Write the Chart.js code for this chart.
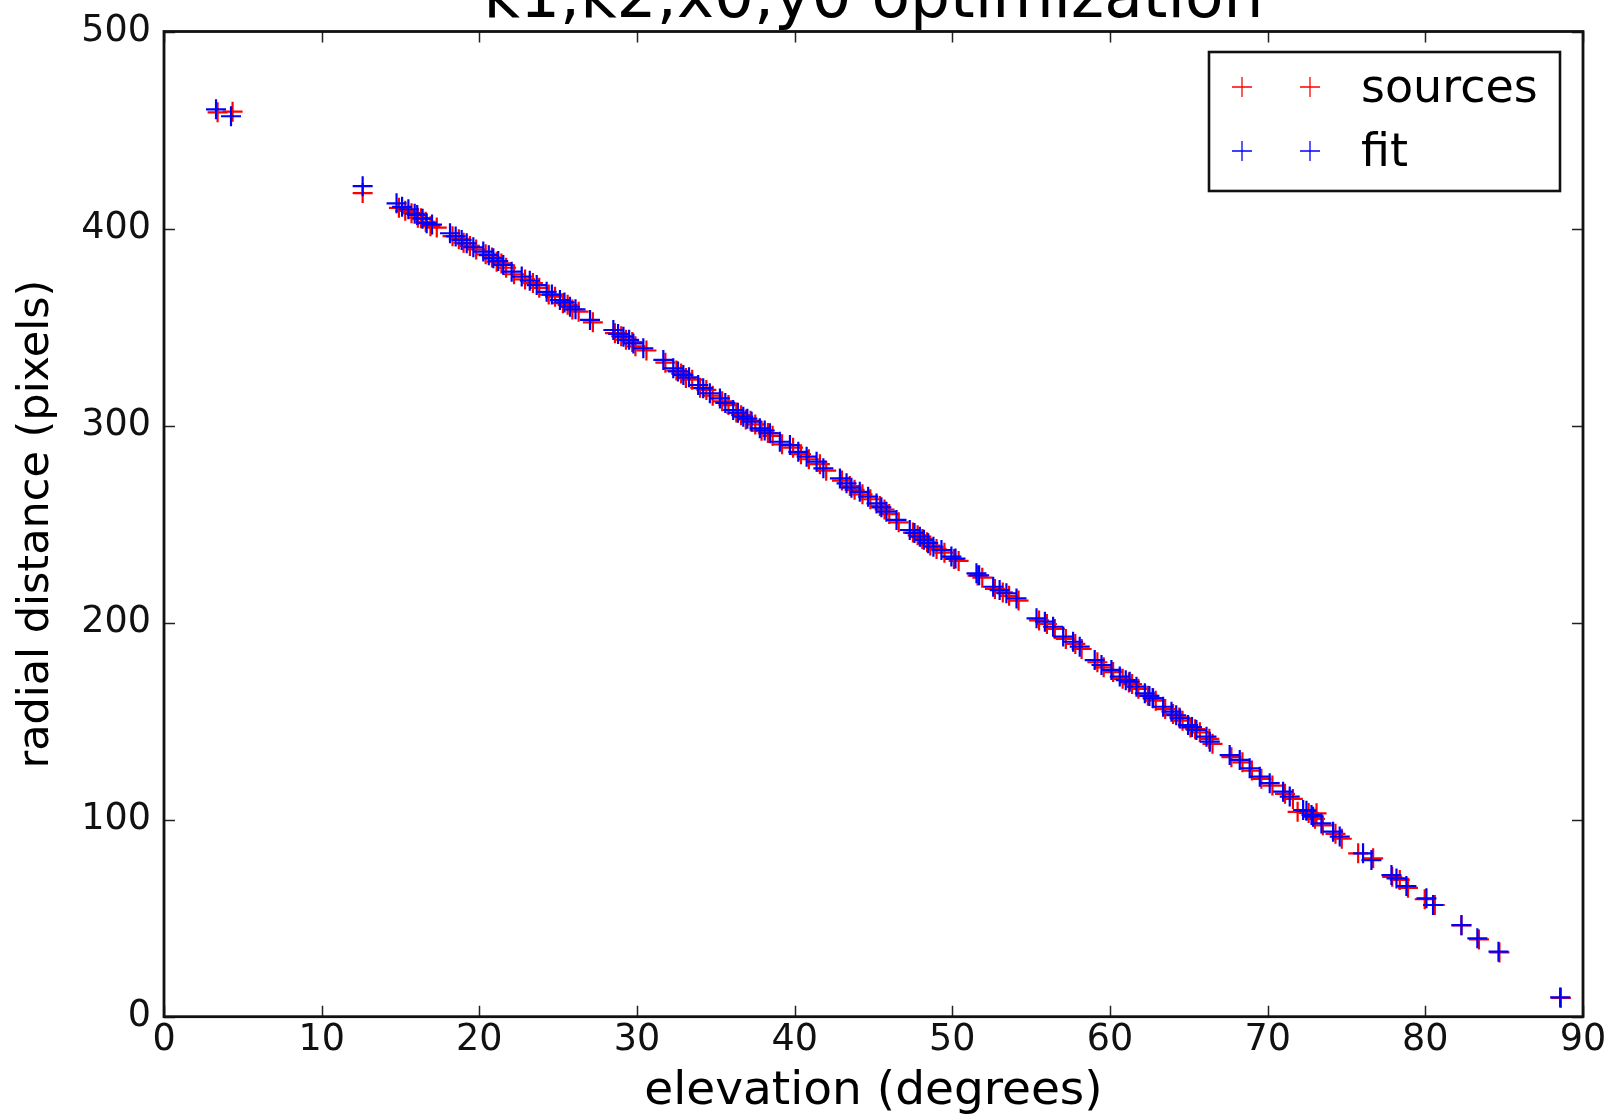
<!DOCTYPE html>
<html><head><meta charset="utf-8">
<script src="https://cdn.jsdelivr.net/npm/chart.js@4.4.0/dist/chart.umd.min.js"></script>
<style>html,body{margin:0;padding:0;background:#fff}#wrap{width:1622px;height:1120px}</style>
</head><body><div id="wrap"><canvas id="c" width="1622" height="1120"></canvas></div>
<script>
const chartTitle = 'k1,k2,x0,y0 optimization';
const xAxisLabel = 'elevation (degrees)';
const yAxisLabel = 'radial distance (pixels)';
const seriesNames = ['sources', 'fit'];
const xTicks = [0, 10, 20, 30, 40, 50, 60, 70, 80, 90];
const yTicks = [0, 100, 200, 300, 400, 500];

const sourceElevation = [3.4,4.35,12.6,14.9,15.3,15.7,16.1,16.3,16.6,16.9,17.3,18.3,18.7,19.0,19.4,19.8,20.4,20.8,21.1,21.4,21.7,22.2,22.9,23.4,23.8,24.4,24.8,25.3,25.6,25.9,26.3,27.2,28.6,29.0,29.3,29.7,29.9,30.6,31.8,32.5,32.8,33.1,33.5,34.0,34.4,34.8,35.4,35.8,36.3,36.6,36.9,37.2,37.5,37.9,38.3,38.6,39.2,39.9,40.4,40.9,41.6,42.0,43.0,43.5,43.8,44.3,44.8,45.4,45.7,46.0,46.6,47.5,47.8,48.1,48.4,48.6,49.0,49.5,50.1,50.4,51.6,51.9,52.7,53.2,53.6,54.2,55.5,56.0,56.5,57.2,57.8,58.2,59.2,59.6,60.2,60.8,61.2,61.4,61.8,62.4,62.7,62.9,63.5,64.0,64.4,64.6,65.1,65.4,65.7,66.3,66.5,67.7,68.4,69.0,69.6,70.3,71.1,71.6,71.9,72.6,73.1,73.0,73.5,74.3,74.7,75.74,76.69,77.9,78.38,78.9,79.96,80.6,82.29,83.4,84.7,88.6];
const sourceRadial = [459,459.3,418,410.5,409,407.8,405.5,405.2,403.4,401.2,400.5,396.1,394.6,392.8,391.2,389.4,386.9,385.3,383.2,382.3,380.1,376.8,374.2,372.3,369.9,366.5,365.4,362.1,361.3,358.9,357.8,352.4,346.9,345.3,343.6,342.4,340.2,338.1,331.9,327.9,326.4,324.1,323.3,319.2,318.1,315.2,312.3,310.4,306.6,305.3,303.1,302.4,300.6,297.4,296.2,294.8,290.5,288.8,285.5,282.9,280.4,277.1,272.1,269.3,267.4,265.1,262.6,259.2,257.4,255.1,250.9,245.7,244.3,242.4,240.8,239.1,237.4,235.5,232.3,231.3,223.9,222.8,217.1,215.3,213.6,211.2,201.1,199.3,196.8,191.7,189.2,186.6,179.9,177.3,174.9,171.5,169.6,168.8,166.4,162.9,161.7,160.4,156.1,153.6,151.9,150.2,146.8,145.9,144.3,141,138.5,131.7,129.1,124.9,120.7,117.3,113.1,110.5,104,103.4,103.2,100.4,97.1,92.8,90.3,82.9,80.4,71,69.4,65.4,59.6,56.7,46.3,39.2,32.6,9.6];

const fitElevation = [3.3,4.25,12.6,14.75,15.1,15.5,15.9,16.06,16.4,16.66,17.0,18.14,18.5,18.88,19.2,19.62,20.25,20.6,20.89,21.2,21.52,22.05,22.69,23.2,23.64,24.27,24.6,25.11,25.4,25.75,26.1,27.02,28.5,28.8,29.14,29.5,29.77,30.4,31.67,32.3,32.6,32.94,33.3,33.88,34.2,34.62,35.26,35.6,36.1,36.4,36.74,37.0,37.27,37.79,38.1,38.43,39.06,39.7,40.23,40.76,41.39,41.82,42.87,43.29,43.6,44.13,44.66,45.19,45.5,45.82,46.46,47.3,47.6,47.94,48.2,48.47,48.8,49.31,49.94,50.2,51.53,51.7,52.59,53.0,53.43,54.07,55.34,55.87,56.39,57.03,57.66,58.08,59.03,59.46,60.09,60.62,61.0,61.25,61.68,62.21,62.5,62.73,63.37,63.9,64.2,64.43,64.95,65.2,65.48,66.12,66.33,67.59,68.23,68.86,69.5,70.13,70.98,71.4,72.25,72.46,72.78,72.88,73.41,74.15,74.57,76.05,76.58,77.85,78.17,78.8,80.07,80.49,82.29,83.3,84.64,88.55];
const fitRadial = [460.5,457,421.5,412.8,411,409.8,407.5,406.9,405,402.7,402,397.6,396,394.2,392.5,390.5,388.3,386.5,384.9,383.5,381.5,378.1,375.6,373.5,371.3,367.9,366.5,363.7,362.5,360.3,359,353.6,348.5,346.5,345.1,343.5,341.7,339.2,333.3,329.1,327.5,325.7,324.5,320.6,319,316.4,313.8,311.5,307.9,306.5,304.5,303.5,302,298.6,297.5,296.1,291.8,290.1,286.7,284.2,281.7,278.3,273.2,270.7,268.5,266.4,263.9,260.5,258.5,256.3,252.1,247,245.5,243.6,242,240.3,238.5,236.8,233.5,232.5,225,224,218.2,216.5,214.9,212.3,202.2,200.5,197.9,192.9,190.3,187.8,181,178.5,176,172.6,170.8,170,167.5,164.1,162.8,161.6,157.3,154.8,153,151.4,148,147,145.5,142.1,139.6,132.8,130.3,126.1,121.8,118.5,114.2,111.7,104.9,104.5,102.4,101.5,98.1,93.9,91.4,82.9,79.5,71.9,70.2,66.3,60.1,56.7,46.5,39.8,33,9.8];

const seriesColors = ['#ff0000', '#0000ff'];
const FONT = '"DejaVu Sans", "Liberation Sans", sans-serif';
Chart.defaults.font.family = FONT;
Chart.defaults.color = '#000';

const toPoints = (xs, ys) => xs.map((v, i) => ({x: v, y: ys[i]}));

const framePlugin = {
  id: 'frameTicks',
  afterDatasetsDraw(chart) {
    const {ctx, chartArea: a, scales: {x, y}} = chart;
    ctx.save();
    ctx.strokeStyle = '#222';
    ctx.lineWidth = 1.5;
    const L = 11;
    ctx.beginPath();
    xTicks.forEach(v => {
      const px = Math.round(x.getPixelForValue(v)) + 0.5;
      ctx.moveTo(px, a.bottom); ctx.lineTo(px, a.bottom - L);
      ctx.moveTo(px, a.top); ctx.lineTo(px, a.top + L);
    });
    yTicks.forEach(v => {
      const py = Math.round(y.getPixelForValue(v)) + 0.5;
      ctx.moveTo(a.left, py); ctx.lineTo(a.left + L, py);
      ctx.moveTo(a.right, py); ctx.lineTo(a.right - L, py);
    });
    ctx.stroke();
    ctx.strokeStyle = '#111';
    ctx.lineWidth = 2.8;
    ctx.strokeRect(a.left, a.top, a.right - a.left, a.bottom - a.top);
    ctx.restore();
  }
};

const legendTitlePlugin = {
  id: 'legendTitle',
  afterDraw(chart) {
    const {ctx, chartArea: a} = chart;
    ctx.save();
    ctx.fillStyle = '#000';
    ctx.font = '63px ' + FONT;
    ctx.textAlign = 'center';
    ctx.textBaseline = 'alphabetic';
    ctx.fillText(chartTitle, (a.left + a.right) / 2, 17);
    const bw = 351, bh = 139;
    const bx = a.right - 23 - bw, by = a.top + 20.5;
    ctx.fillStyle = '#fff';
    ctx.fillRect(bx, by, bw, bh);
    ctx.strokeStyle = '#111';
    ctx.lineWidth = 2.6;
    ctx.strokeRect(bx, by, bw, bh);
    seriesNames.forEach((name, i) => {
      const cy = by + 35 + i * 64;
      ctx.strokeStyle = seriesColors[i];
      ctx.lineWidth = 1.3;
      [bx + 33, bx + 101].forEach(mx => {
        ctx.beginPath();
        ctx.moveTo(mx - 10, cy); ctx.lineTo(mx + 10, cy);
        ctx.moveTo(mx, cy - 10); ctx.lineTo(mx, cy + 10);
        ctx.stroke();
      });
      ctx.fillStyle = '#000';
      ctx.font = '46px ' + FONT;
      ctx.textAlign = 'left';
      ctx.textBaseline = 'alphabetic';
      ctx.fillText(name, bx + 152, cy + 15);
    });
    ctx.restore();
  }
};

new Chart(document.getElementById('c'), {
  type: 'scatter',
  data: {
    datasets: [
      {
        label: seriesNames[0],
        data: toPoints(sourceElevation, sourceRadial),
        pointStyle: 'cross', pointRadius: 10, pointHoverRadius: 10,
        borderColor: seriesColors[0], backgroundColor: seriesColors[0],
        borderWidth: 2.2, order: 1
      },
      {
        label: seriesNames[1],
        data: toPoints(fitElevation, fitRadial),
        pointStyle: 'cross', pointRadius: 10, pointHoverRadius: 10,
        borderColor: seriesColors[1], backgroundColor: seriesColors[1],
        borderWidth: 2.2, order: 0
      }
    ]
  },
  options: {
    responsive: false,
    animation: false,
    devicePixelRatio: 1,
    layout: {padding: {top: 31.5, right: 39, left: 0, bottom: 0}},
    plugins: {legend: {display: false}, title: {display: false}, tooltip: {enabled: false}},
    scales: {
      x: {
        type: 'linear', min: 0, max: 90,
        afterBuildTicks: s => { s.ticks = xTicks.map(v => ({value: v})); },
        afterFit: s => { s.height = 103.3; },
        grid: {display: false, drawTicks: false},
        border: {display: false},
        ticks: {font: {size: 36.5}, color: '#111', padding: 2, maxRotation: 0},
        title: {display: true, text: xAxisLabel, font: {size: 47}, color: '#000', padding: {top: 0, bottom: 0}}
      },
      y: {
        type: 'linear', min: 0, max: 500,
        afterBuildTicks: s => { s.ticks = yTicks.map(v => ({value: v})); },
        afterFit: s => { s.width = 164; },
        grid: {display: false, drawTicks: false},
        border: {display: false},
        ticks: {font: {size: 36.5, lineHeight: 1}, color: '#111', padding: 13},
        title: {display: true, text: yAxisLabel, font: {size: 43}, color: '#000', padding: {top: 11, bottom: 0}}
      }
    }
  },
  plugins: [framePlugin, legendTitlePlugin]
});
</script>
</body></html>
